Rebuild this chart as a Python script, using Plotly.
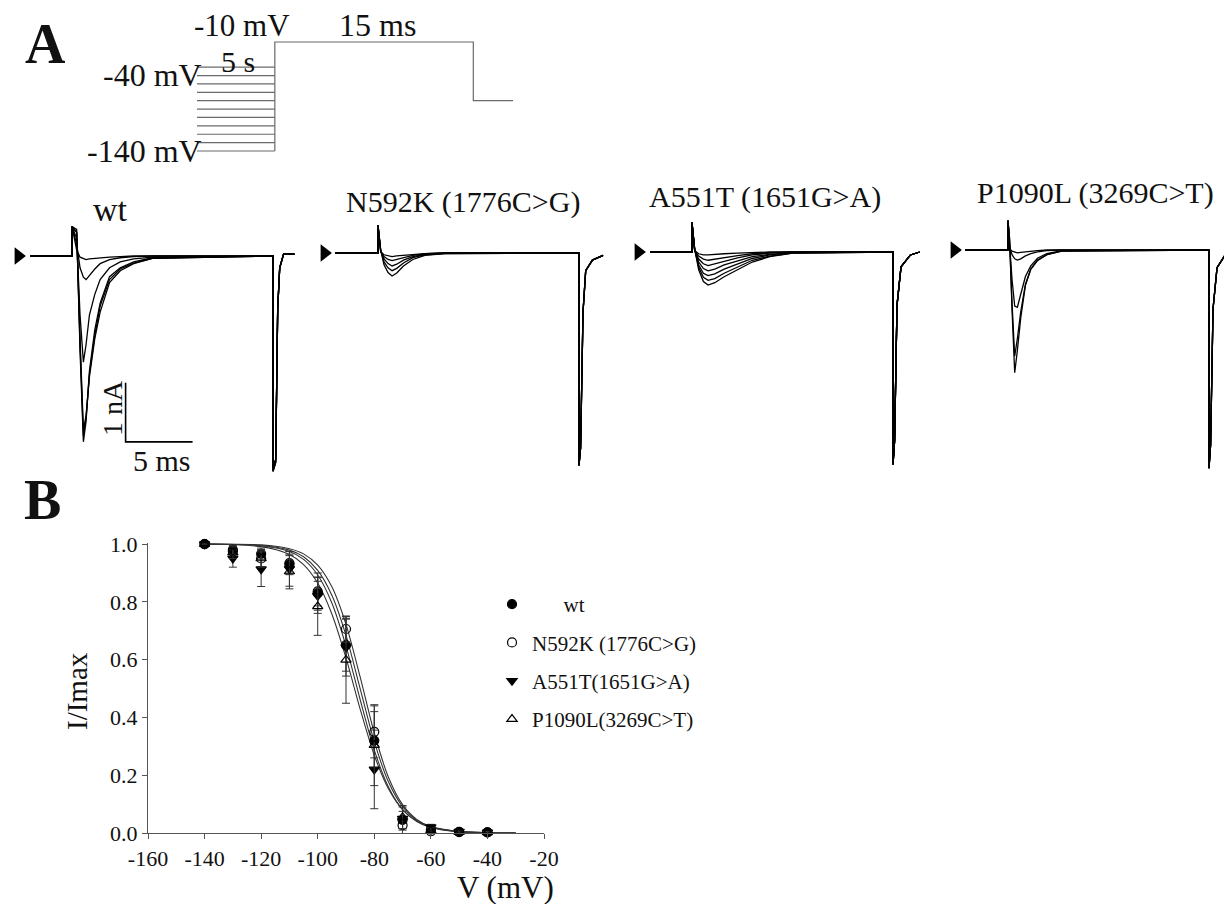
import plotly.graph_objects as go

W, H = 1224, 904
SERIF = "Liberation Serif, Times New Roman, serif"

# ---------------- Panel B: steady-state inactivation data ----------------
V_MV = [-140, -130, -120, -110, -100, -90, -80, -70, -60, -50, -40]
WT = [1.0, 0.98, 0.966, 0.93, 0.83, 0.65, 0.32, 0.045, 0.012, 0.004, 0.002]
WT_ERR = [0.0, 0.01, 0.02, 0.03, 0.07, 0.09, 0.1, 0.03, 0.01, 0.004, 0.003]
N592K = [1.0, 0.975, 0.95, 0.934, 0.836, 0.706, 0.35, 0.027, 0.006, 0.003, 0.002]
N592K_ERR = [0.0, 0.02, 0.03, 0.04, 0.05, 0.045, 0.09, 0.03, 0.01, 0.004, 0.003]
A551T = [1.0, 0.95, 0.913, 0.914, 0.821, 0.643, 0.22, 0.05, 0.02, 0.005, 0.002]
A551T_ERR = [0.0, 0.03, 0.06, 0.06, 0.05, 0.1, 0.136, 0.04, 0.01, 0.004, 0.003]
P1090L = [1.0, 0.97, 0.95, 0.905, 0.784, 0.599, 0.304, 0.055, 0.008, 0.003, 0.002]
P1090L_ERR = [0.0, 0.02, 0.03, 0.06, 0.1, 0.15, 0.14, 0.04, 0.01, 0.004, 0.003]

# Boltzmann fit curves
FIT_V = [-140, -120, -110, -105, -100, -95, -90, -85, -80, -75, -70, -65, -60, -50, -40, -30]
FIT_N592K = [1.0, 0.997, 0.984, 0.966, 0.927, 0.852, 0.722, 0.540, 0.346, 0.193, 0.098, 0.047, 0.022, 0.005, 0.001, 0.0]
FIT_WT = [1.0, 0.995, 0.979, 0.956, 0.909, 0.823, 0.684, 0.500, 0.316, 0.177, 0.091, 0.044, 0.021, 0.005, 0.001, 0.0]
FIT_A551T = [1.0, 0.994, 0.974, 0.947, 0.893, 0.796, 0.647, 0.462, 0.287, 0.159, 0.081, 0.040, 0.019, 0.004, 0.001, 0.0]
FIT_P1090L = [1.0, 0.991, 0.964, 0.929, 0.865, 0.758, 0.606, 0.429, 0.269, 0.153, 0.081, 0.041, 0.021, 0.005, 0.001, 0.0]

X_TICKS = [-160, -140, -120, -100, -80, -60, -40, -20]
X_TICK_LABELS = ["-160", "-140", "-120", "-100", "-80", "-60", "-40", "-20"]
Y_TICKS = [0.0, 0.2, 0.4, 0.6, 0.8, 1.0]
Y_TICK_LABELS = ["0.0", "0.2", "0.4", "0.6", "0.8", "1.0"]

# ---------------- Panel A: voltage protocol ----------------
PRE_LEVELS = [-40, -50, -60, -70, -80, -90, -100, -110, -120, -130, -140]
TEST_LEVEL = -10
HOLD_LEVEL = -80
PROTO_T = [0.0, 1.0, 3.55, 4.06]  # schematic: prepulse (5 s) | test (15 ms) | return

# ---------------- Panel A: current traces (time ms, current nA) ----------------
WT_T = [-3.1, 0.0, 0.0, 0.35, 0.6, 0.85, 1.05, 1.3, 1.7, 2.1, 2.8, 3.6, 4.6, 6.0,
        15.0, 15.0, 15.2, 15.35, 15.5, 15.8, 16.6]
WT_SWEEPS = [
    [0, 0, 0.5, 0.45, -1.6, -3.15, -2.8, -1.95, -1.25, -0.8, -0.35, -0.2, -0.1, -0.03, 0, -3.65, -3.5, -0.9, -0.2, 0.04, 0.03],
    [0, 0, 0.5, 0.4, -1.5, -3.05, -2.75, -2.0, -1.35, -0.85, -0.4, -0.22, -0.12, -0.04, 0, -3.65, -3.5, -0.9, -0.2, 0.04, 0.03],
    [0, 0, 0.5, 0.4, -1.4, -2.95, -2.7, -2.05, -1.4, -0.95, -0.45, -0.25, -0.13, -0.04, 0, -3.65, -3.5, -0.9, -0.2, 0.04, 0.03],
    [0, 0, 0.5, 0.3, -1.0, -1.8, -1.5, -1.0, -0.65, -0.4, -0.2, -0.1, -0.05, -0.02, 0, -3.6, -3.45, -0.9, -0.2, 0.04, 0.03],
    [0, 0, 0.5, 0.2, -0.2, -0.36, -0.4, -0.33, -0.22, -0.13, -0.06, -0.03, -0.01, 0, 0, -3.6, -3.45, -0.9, -0.2, 0.04, 0.03],
    [0, 0, 0.5, 0.1, -0.02, -0.05, -0.06, -0.05, -0.04, -0.03, -0.02, -0.01, 0, 0, 0, -3.6, -3.45, -0.9, -0.2, 0.04, 0.03],
]

N592K_T = [-3.2, 0.0, 0.0, 0.2, 0.45, 0.75, 1.05, 1.4, 1.9, 2.6, 3.5, 5.0,
           15.0, 15.0, 15.12, 15.3, 15.5, 16.0, 16.8]
N592K_SWEEPS = [
    [0, 0, 0.47, 0.05, -0.2, -0.33, -0.39, -0.34, -0.22, -0.11, -0.04, -0.01, 0, -3.6, -3.3, -1.0, -0.3, -0.12, -0.04],
    [0, 0, 0.47, 0.05, -0.15, -0.25, -0.3, -0.26, -0.17, -0.08, -0.03, -0.01, 0, -3.6, -3.3, -1.0, -0.3, -0.12, -0.04],
    [0, 0, 0.47, 0.04, -0.1, -0.18, -0.22, -0.19, -0.12, -0.06, -0.02, 0, 0, -3.6, -3.3, -1.0, -0.3, -0.12, -0.04],
    [0, 0, 0.47, 0.03, -0.06, -0.11, -0.13, -0.11, -0.07, -0.04, -0.01, 0, 0, -3.6, -3.3, -1.0, -0.3, -0.12, -0.04],
    [0, 0, 0.47, 0.02, -0.03, -0.05, -0.06, -0.05, -0.04, -0.02, -0.01, 0, 0, -3.6, -3.3, -1.0, -0.3, -0.12, -0.04],
]

A551T_T = [-3.1, 0.0, 0.0, 0.2, 0.5, 0.85, 1.2, 1.7, 2.4, 3.4, 4.5, 5.8, 7.5,
           15.0, 15.0, 15.12, 15.3, 15.6, 16.3, 17.0]
A551T_SWEEPS = [
    [0, 0, 0.5, 0.05, -0.3, -0.5, -0.56, -0.52, -0.42, -0.3, -0.17, -0.08, -0.02, 0, -3.6, -3.2, -0.9, -0.25, -0.05, 0.0],
    [0, 0, 0.5, 0.05, -0.26, -0.43, -0.48, -0.45, -0.36, -0.25, -0.14, -0.07, -0.02, 0, -3.6, -3.2, -0.9, -0.25, -0.05, 0.0],
    [0, 0, 0.5, 0.04, -0.22, -0.36, -0.4, -0.37, -0.29, -0.2, -0.11, -0.05, -0.01, 0, -3.6, -3.2, -0.9, -0.25, -0.05, 0.0],
    [0, 0, 0.5, 0.04, -0.17, -0.28, -0.32, -0.29, -0.22, -0.15, -0.08, -0.04, -0.01, 0, -3.6, -3.2, -0.9, -0.25, -0.05, 0.0],
    [0, 0, 0.5, 0.03, -0.12, -0.2, -0.23, -0.2, -0.15, -0.1, -0.05, -0.02, 0, 0, -3.6, -3.2, -0.9, -0.25, -0.05, 0.0],
    [0, 0, 0.5, 0.03, -0.07, -0.12, -0.14, -0.12, -0.09, -0.06, -0.03, -0.01, 0, 0, -3.6, -3.2, -0.9, -0.25, -0.05, 0.0],
    [0, 0, 0.5, 0.02, -0.03, -0.05, -0.05, -0.04, -0.03, -0.02, -0.01, 0, 0, 0, -3.6, -3.2, -0.9, -0.25, -0.05, 0.0],
]

P1090L_T = [-3.2, 0.0, 0.0, 0.12, 0.3, 0.5, 0.7, 0.95, 1.3, 1.7, 2.2, 2.9, 4.0,
            15.0, 15.0, 15.12, 15.3, 15.6, 16.3]
P1090L_SWEEPS = [
    [0, 0, 0.5, 0.2, -1.0, -2.08, -1.7, -1.15, -0.6, -0.33, -0.18, -0.08, -0.02, 0, -3.7, -3.3, -1.0, -0.3, -0.05],
    [0, 0, 0.5, 0.15, -0.9, -1.8, -1.5, -1.05, -0.58, -0.32, -0.17, -0.08, -0.02, 0, -3.7, -3.3, -1.0, -0.3, -0.05],
    [0, 0, 0.5, 0.1, -0.5, -0.95, -0.97, -0.75, -0.45, -0.27, -0.14, -0.06, -0.01, 0, -3.7, -3.3, -1.0, -0.3, -0.05],
    [0, 0, 0.5, 0.05, -0.08, -0.15, -0.17, -0.15, -0.1, -0.06, -0.03, -0.01, 0, 0, -3.7, -3.3, -1.0, -0.3, -0.05],
    [0, 0, 0.5, 0.02, -0.02, -0.04, -0.05, -0.04, -0.03, -0.02, -0.01, 0, 0, 0, -3.7, -3.3, -1.0, -0.3, -0.05],
]

PANEL_TITLES = ["wt", "N592K (1776C>G)", "A551T (1651G>A)", "P1090L (3269C>T)"]
ARROW_T = -4.0         # ms, zero-current marker
SCALE_MS = 5           # scale bar
SCALE_NA = 1
SCALE_T0 = 4.0
SCALE_I0 = -3.15

# ---------------- layout helpers (pixel geometry) ----------------
def fx(px):
    return px / W


def fy(py):
    return 1 - py / H


PX_PER_MS = 13.4
PX_PER_NA = 59.0
PANEL_Y0, PANEL_Y1 = 190, 478

panels = [
    dict(t=WT_T, sweeps=WT_SWEEPS, pulse=72, base=256, x0=0, x1=302,
         tx=110, ty=210, ts=34),
    dict(t=N592K_T, sweeps=N592K_SWEEPS, pulse=378, base=253, x0=305, x1=612,
         tx=463, ty=202, ts=30),
    dict(t=A551T_T, sweeps=A551T_SWEEPS, pulse=692, base=252, x0=620, x1=928,
         tx=765, ty=197, ts=30),
    dict(t=P1090L_T, sweeps=P1090L_SWEEPS, pulse=1008, base=250, x0=935, x1=1224,
         tx=1095, ty=193, ts=30),
]

fig = go.Figure()
layout = {}
annotations = []

# ---------------- Panel B ----------------
fit_sets = [FIT_N592K, FIT_WT, FIT_A551T, FIT_P1090L]
for f in fit_sets:
    fig.add_trace(go.Scatter(
        x=FIT_V, y=f, mode="lines", line=dict(color="#333333", width=1.1, shape="spline", smoothing=0.8),
        showlegend=False, hoverinfo="skip", xaxis="x", yaxis="y"))

series = [
    ("\u00a0" * 6 + "wt", WT, WT_ERR, "circle", "black"),
    ("N592K (1776C>G)", N592K, N592K_ERR, "circle-open", "black"),
    ("A551T(1651G>A)", A551T, A551T_ERR, "triangle-down", "black"),
    ("P1090L(3269C>T)", P1090L, P1090L_ERR, "triangle-up-open", "black"),
]
for i, (name, yv, err, sym, col) in enumerate(series):
    fig.add_trace(go.Scatter(
        x=V_MV, y=yv, mode="markers", name=name, legendgroup=f"g{i}",
        marker=dict(symbol=sym, size=9, color=col, line=dict(color="black", width=1.2)),
        error_y=dict(type="data", array=err, visible=True, color="#333333", thickness=1, width=4),
        cliponaxis=False, xaxis="x", yaxis="y"))

axis_font = dict(family=SERIF, size=22, color="#111111")
layout["xaxis"] = dict(domain=[fx(148), fx(544)], range=[-160, -20], tickvals=X_TICKS,
                       ticktext=X_TICK_LABELS,
                       showline=True, linecolor="#555555", linewidth=1.3, ticks="outside",
                       ticklen=5, tickcolor="#555555", tickwidth=1.2, tickfont=axis_font,
                       showgrid=False, zeroline=False, anchor="y", fixedrange=True)
layout["yaxis"] = dict(domain=[fy(833), fy(542.6)], range=[0, 1.005], tickvals=Y_TICKS,
                       ticktext=Y_TICK_LABELS, showline=True, linecolor="#555555", linewidth=1.3,
                       ticks="outside", ticklen=5, tickcolor="#555555", tickwidth=1.2,
                       tickfont=axis_font, showgrid=False, zeroline=False, anchor="x",
                       fixedrange=True)

annotations.append(dict(text="V (mV)", x=fx(506), y=fy(887), xref="paper", yref="paper",
                        showarrow=False, font=dict(family=SERIF, size=31, color="#111111"),
                        xanchor="center", yanchor="middle"))
annotations.append(dict(text="I/Imax", x=fx(77), y=fy(691), xref="paper", yref="paper",
                        showarrow=False, textangle=-90,
                        font=dict(family=SERIF, size=29, color="#111111"),
                        xanchor="center", yanchor="middle"))

# ---------------- Panel A: protocol ----------------
px_mv = (151 - 42) / (TEST_LEVEL - min(PRE_LEVELS))
px_unit = (513 - 197) / (PROTO_T[3] - PROTO_T[0])
pxs, pys = [], []
for lv in PRE_LEVELS:
    pxs += [PROTO_T[0], PROTO_T[1], None]
    pys += [lv, lv, None]
pxs += [PROTO_T[1], PROTO_T[1], PROTO_T[2], PROTO_T[2], PROTO_T[3]]
pys += [min(PRE_LEVELS), TEST_LEVEL, TEST_LEVEL, HOLD_LEVEL, HOLD_LEVEL]
fig.add_trace(go.Scatter(x=pxs, y=pys, mode="lines", line=dict(color="#6a6a6a", width=1.2),
                         showlegend=False, hoverinfo="skip", xaxis="x2", yaxis="y2"))
PX0, PX1, PY0, PY1 = 190, 520, 30, 165
layout["xaxis2"] = dict(domain=[fx(PX0), fx(PX1)],
                        range=[PROTO_T[0] - (197 - PX0) / px_unit, PROTO_T[0] + (PX1 - 197) / px_unit],
                        visible=False, anchor="y2", fixedrange=True)
layout["yaxis2"] = dict(domain=[fy(PY1), fy(PY0)],
                        range=[min(PRE_LEVELS) - (PY1 - 151) / px_mv, TEST_LEVEL + (42 - PY0) / px_mv],
                        visible=False, anchor="x2", fixedrange=True)

for txt, x, y, xa, fs in [("-10 mV", 292, 26, "right", 31), ("15 ms", 377, 25, "center", 32),
                          ("5 s", 238, 61, "center", 30), ("-40 mV", 204, 75, "right", 32),
                          ("-140 mV", 204, 151, "right", 32)]:
    annotations.append(dict(text=txt, x=fx(x), y=fy(y), xref="paper", yref="paper",
                            showarrow=False, font=dict(family=SERIF, size=fs, color="#111111"),
                            xanchor=xa, yanchor="middle"))

# ---------------- Panel A: current traces ----------------
for i, p in enumerate(panels):
    ax = i + 3
    for sw in p["sweeps"]:
        fig.add_trace(go.Scatter(x=p["t"], y=sw, mode="lines",
                                 line=dict(color="black", width=1.3),
                                 showlegend=False, hoverinfo="skip",
                                 xaxis=f"x{ax}", yaxis=f"y{ax}"))
    fig.add_trace(go.Scatter(x=[ARROW_T], y=[0], mode="markers",
                             marker=dict(symbol="triangle-right", size=15, color="black"),
                             showlegend=False, hoverinfo="skip", cliponaxis=False,
                             xaxis=f"x{ax}", yaxis=f"y{ax}"))
    layout[f"xaxis{ax}"] = dict(domain=[fx(p["x0"]), fx(p["x1"])],
                                range=[(p["x0"] - p["pulse"]) / PX_PER_MS,
                                       (p["x1"] - p["pulse"]) / PX_PER_MS],
                                visible=False, anchor=f"y{ax}", fixedrange=True)
    layout[f"yaxis{ax}"] = dict(domain=[fy(PANEL_Y1), fy(PANEL_Y0)],
                                range=[(p["base"] - PANEL_Y1) / PX_PER_NA,
                                       (p["base"] - PANEL_Y0) / PX_PER_NA],
                                visible=False, anchor=f"x{ax}", fixedrange=True)
    annotations.append(dict(text=PANEL_TITLES[i], x=fx(p["tx"]), y=fy(p["ty"]),
                            xref="paper", yref="paper", showarrow=False,
                            font=dict(family=SERIF, size=p["ts"], color="#111111"),
                            xanchor="center", yanchor="middle"))

# scale bar in wt panel
fig.add_trace(go.Scatter(x=[SCALE_T0, SCALE_T0, SCALE_T0 + SCALE_MS],
                         y=[SCALE_I0 + SCALE_NA, SCALE_I0, SCALE_I0],
                         mode="lines", line=dict(color="black", width=1.6),
                         showlegend=False, hoverinfo="skip", xaxis="x3", yaxis="y3"))
annotations.append(dict(text="1 nA", x=fx(112), y=fy(408), xref="paper", yref="paper",
                        showarrow=False, textangle=-90,
                        font=dict(family=SERIF, size=28, color="#111111"),
                        xanchor="center", yanchor="middle"))
annotations.append(dict(text="5 ms", x=fx(162), y=fy(460), xref="paper", yref="paper",
                        showarrow=False, font=dict(family=SERIF, size=30, color="#111111"),
                        xanchor="center", yanchor="middle"))

# panel letters
for txt, x, y in [("A", 45, 44), ("B", 42, 500)]:
    annotations.append(dict(text=f"<b>{txt}</b>", x=fx(x), y=fy(y), xref="paper", yref="paper",
                            showarrow=False, font=dict(family=SERIF, size=56, color="#111111"),
                            xanchor="center", yanchor="middle"))

fig.update_layout(
    width=W, height=H, margin=dict(l=0, r=0, t=0, b=0, pad=0, autoexpand=False),
    paper_bgcolor="white", plot_bgcolor="rgba(0,0,0,0)",
    showlegend=True,
    legend=dict(x=fx(492), y=fy(584), xanchor="left", yanchor="top",
                font=dict(family=SERIF, size=21, color="#111111"),
                bgcolor="rgba(0,0,0,0)", tracegroupgap=8, itemwidth=30),
    annotations=annotations,
    **layout,
)

fig.write_html("out.html", config={"displayModeBar": False},
               post_script="document.body.style.margin='0';")
